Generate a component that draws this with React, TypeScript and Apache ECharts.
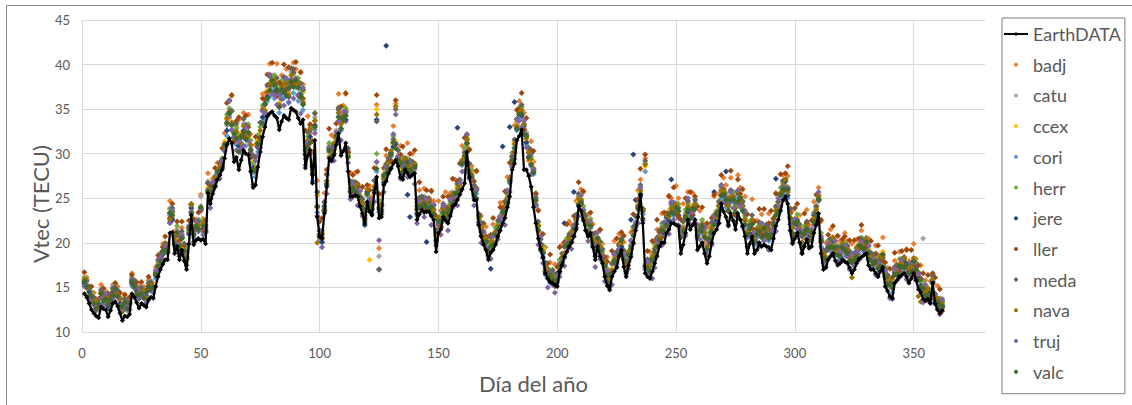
import React, { useEffect, useRef } from "react";
import * as echarts from "echarts";

// Daily vertical TEC (TECU), day of year 1..362
const earthData = [
  14.3,13.9,13.2,12.5,12.1,11.8,11.6,12.8,12.6,12.5,
  11.7,12.4,13.2,13.4,12.9,12.1,11.3,11.8,11.7,12.0,
  14.3,13.9,13.3,12.7,13.2,13.0,12.8,13.6,13.9,13.8,
  15.1,16.2,17.0,17.6,18.1,18.1,21.1,21.2,18.8,19.6,
  18.1,19.2,18.0,17.0,19.9,23.1,19.8,20.3,20.5,20.3,
  20.4,19.9,25.6,24.4,25.5,26.3,27.1,27.6,28.2,29.5,
  31.0,31.7,31.2,29.1,29.6,28.2,29.3,30.4,30.0,29.9,
  28.0,26.2,26.5,28.5,30.2,31.9,33.0,34.2,34.5,34.7,
  34.3,34.0,32.7,33.6,34.3,34.0,33.8,35.1,34.9,34.7,
  34.0,33.4,33.8,28.4,29.8,30.4,26.7,31.5,22.9,20.7,
  20.5,23.3,26.3,29.5,29.2,29.8,31.0,32.3,29.8,30.3,
  31.2,28.0,25.2,25.2,25.3,25.2,24.1,23.3,22.2,24.6,
  23.5,23.1,25.6,27.4,22.8,22.9,26.5,26.9,27.8,28.3,
  28.9,29.3,28.6,27.4,27.1,28.2,27.8,27.4,27.6,27.8,
  22.6,23.2,23.7,23.4,23.5,23.5,23.0,22.6,19.0,21.1,
  21.5,22.9,22.5,22.2,23.0,24.1,24.3,24.8,25.4,26.0,
  26.7,30.2,27.4,26.0,24.8,24.8,22.0,20.7,19.8,19.2,
  18.1,18.9,19.2,19.8,20.7,21.4,22.2,22.8,24.0,25.2,
  28.2,28.9,31.5,32.0,32.7,28.2,28.2,27.5,26.3,24.0,
  22.2,20.5,19.3,18.4,16.6,16.0,15.6,15.5,15.3,15.1,
  16.8,17.5,18.4,19.0,19.6,20.0,20.7,21.5,24.1,23.6,
  22.5,21.4,20.7,21.1,19.5,18.1,19.6,18.5,17.7,16.2,
  15.2,14.7,16.2,16.8,17.3,18.5,19.2,17.3,16.2,17.5,
  18.4,20.0,21.4,22.9,25.4,22.2,16.6,16.2,16.0,16.8,
  17.7,18.5,19.6,20.0,20.0,21.1,21.5,22.2,22.2,22.0,
  21.9,18.8,19.8,21.1,22.6,21.5,22.0,22.6,19.2,19.6,
  20.0,18.8,17.7,18.5,20.0,21.1,21.5,22.2,24.4,23.5,
  22.9,21.9,23.3,22.5,21.5,23.3,22.6,21.9,20.7,18.8,
  19.9,20.7,18.8,19.2,20.0,19.6,19.8,19.6,19.5,19.2,
  20.5,21.9,22.6,23.6,24.8,25.2,24.4,21.4,19.9,20.5,
  21.1,20.0,18.8,19.6,20.4,19.4,19.6,21.1,22.0,23.3,
  18.8,17.0,17.2,18.1,18.5,18.8,18.0,17.5,17.7,18.1,
  17.9,17.7,17.2,16.6,17.0,17.7,18.2,18.4,18.6,18.8,
  17.5,17.0,17.0,16.6,16.2,16.8,17.3,15.1,14.6,14.0,
  13.8,15.5,15.8,16.2,16.4,16.6,16.2,15.5,16.0,16.6,
  15.8,14.8,14.4,13.7,13.5,13.7,13.2,15.5,13.2,12.5,
  12.1,12.4,
];

const badj = [
  15.5,16.1,14.7,13.5,14.4,13.7,12.9,15.3,14.1,14.6,
  14.2,13.9,15.3,14.6,15.1,13.6,12.3,14.1,13.6,13.3,
  16.6,15.8,14.6,15.2,14.7,15.1,14.0,15.8,15.4,14.8,
  17.3,17.7,18.0,19.9,20.0,19.4,24.7,23.5,21.3,20.9,
  19.8,21.7,19.3,19.7,21.7,23.5,22.7,22.6,22.0,25.4,
  22.7,21.4,27.8,25.3,27.2,26.8,29.0,28.6,28.5,32.3,
  33.8,34.0,36.5,33.4,32.4,33.8,31.9,34.6,32.0,34.4,
  32.2,28.2,31.0,31.3,31.7,36.7,36.8,36.5,40.1,38.3,
  37.6,40.1,36.3,38.8,37.3,39.5,37.6,37.6,40.2,39.5,
  36.5,39.2,37.8,30.0,34.2,32.3,30.2,33.0,27.0,21.3,
  20.4,25.6,27.6,29.7,32.1,31.9,31.8,36.7,33.6,35.4,
  36.7,30.1,27.9,25.8,27.9,26.5,24.3,26.2,24.3,25.4,
  26.4,25.2,26.4,35.5,19.4,25.4,27.1,29.8,29.3,29.2,
  33.1,35.6,29.2,30.9,29.6,29.0,31.2,28.7,30.0,28.2,
  24.1,25.9,24.4,26.1,24.8,23.7,25.9,24.7,20.8,24.7,
  23.6,23.6,25.7,23.5,25.6,24.8,27.1,26.3,25.8,30.9,
  30.3,30.7,30.4,28.6,25.8,28.0,23.1,23.0,20.4,21.8,
  20.7,19.6,22.1,21.3,21.2,24.5,24.5,23.8,27.4,27.1,
  29.3,33.2,33.6,35.9,34.6,34.6,32.3,29.2,31.4,29.1,
  24.2,23.7,21.1,18.8,19.5,16.9,17.8,15.9,17.6,16.2,
  17.1,19.8,19.5,19.0,22.4,22.0,21.4,24.7,25.1,26.0,
  25.7,22.5,23.2,21.6,22.1,19.6,19.7,21.4,19.9,17.3,
  18.4,16.9,17.1,20.2,18.6,21.0,19.9,20.1,17.8,17.9,
  21.2,21.5,21.8,25.9,27.1,23.3,29.5,17.6,19.0,17.7,
  19.3,21.5,20.5,23.3,22.1,21.9,25.3,25.0,23.8,26.4,
  25.0,20.8,24.4,23.1,25.7,23.0,25.6,24.5,20.6,23.6,
  22.3,20.1,22.1,21.7,21.6,25.2,23.3,25.5,25.5,27.3,
  26.5,23.5,27.3,25.3,23.1,27.6,26.2,23.8,25.2,21.1,
  21.6,24.9,20.9,22.5,21.3,23.2,21.9,20.5,23.3,22.2,
  21.3,25.6,25.4,25.3,27.6,26.9,27.5,22.7,23.6,22.6,
  22.2,23.1,20.7,20.5,23.7,22.0,21.1,24.6,23.9,26.2,
  22.4,18.8,20.0,19.2,21.5,20.6,18.8,20.7,20.2,19.5,
  21.1,20.2,18.6,19.9,18.6,20.4,19.3,21.4,20.3,19.5,
  20.5,18.7,17.6,19.7,18.6,18.1,20.6,16.6,17.2,15.1,
  15.4,18.0,16.8,19.0,18.1,17.3,19.3,18.0,17.3,19.9,
  18.2,16.1,17.5,15.1,15.8,14.2,15.7,16.1,13.3,15.2,
  13.5,12.3,
];

const catu = [
  15.5,15.6,15.1,13.9,13.6,13.6,12.7,14.4,14.5,13.8,
  13.0,14.1,15.1,14.6,14.4,13.9,12.4,13.4,13.6,13.3,
  15.6,15.6,15.2,14.0,14.7,14.8,13.9,15.2,15.8,15.1,
  16.4,17.9,18.9,18.9,19.6,19.9,23.9,23.8,20.2,21.5,
  20.2,20.7,19.7,19.0,21.2,24.4,21.6,21.8,22.6,25.2,
  21.9,21.9,26.9,25.1,26.4,27.5,27.7,28.6,29.5,30.9,
  33.2,35.9,34.9,31.8,32.8,32.1,31.3,33.4,33.3,32.1,
  30.8,29.6,28.6,31.5,33.5,34.1,35.9,37.5,37.6,38.8,
  38.4,37.2,36.9,37.7,37.5,38.2,37.0,39.2,38.9,37.9,
  38.1,36.6,37.2,30.8,31.3,32.9,28.2,34.1,25.3,20.9,
  21.1,24.5,27.0,30.9,30.5,30.6,32.6,34.9,33.2,34.3,
  34.2,30.4,26.9,26.0,26.6,26.7,24.9,24.6,23.6,25.4,
  24.9,23.9,27.0,29.0,18.5,24.3,27.3,28.6,29.4,29.8,
  31.9,31.3,29.8,29.4,28.9,29.0,29.5,28.4,28.9,28.8,
  24.4,24.3,25.2,24.9,24.2,24.8,24.3,23.4,21.5,22.3,
  22.9,23.6,23.9,23.8,24.0,25.7,25.3,26.4,27.0,28.8,
  30.4,31.3,28.9,27.9,25.8,26.2,23.3,21.5,21.2,20.1,
  19.7,19.9,20.9,21.3,21.8,23.0,23.7,23.9,25.6,27.4,
  29.8,31.4,33.3,34.9,35.3,32.8,32.4,30.3,29.3,28.4,
  25.4,22.1,19.8,19.3,17.6,16.7,16.8,16.5,15.8,16.2,
  17.8,18.1,19.6,20.1,20.4,21.3,21.9,22.4,25.4,24.9,
  23.4,22.8,22.1,21.9,20.9,19.6,20.4,19.9,19.1,17.4,
  16.9,15.7,17.6,18.4,18.4,19.9,20.6,18.4,17.9,19.0,
  19.5,21.6,22.9,24.3,25.9,23.8,17.6,17.9,17.4,18.6,
  19.5,20.4,20.9,21.9,22.3,22.7,23.6,24.2,23.9,24.5,
  24.1,21.4,21.9,23.4,24.6,23.4,24.2,24.5,21.4,21.9,
  22.3,21.4,19.9,20.9,22.2,22.7,23.6,24.3,25.9,25.9,
  25.3,24.4,25.4,25.4,24.3,25.4,25.5,24.3,22.7,21.4,
  22.1,22.4,21.2,21.3,21.7,21.8,21.9,21.3,21.6,21.3,
  22.1,23.9,24.6,25.4,26.9,27.1,25.9,23.6,22.1,22.2,
  22.9,21.5,20.8,21.5,21.9,21.4,21.5,22.6,24.2,25.3,
  20.4,19.1,19.1,19.5,20.4,20.6,19.4,19.4,19.5,19.5,
  19.8,19.5,18.6,18.4,18.8,19.1,20.1,20.2,19.9,20.6,
  19.3,18.3,18.7,18.3,17.5,18.6,19.0,16.4,16.4,15.8,
  15.2,17.2,17.5,17.4,18.2,18.3,17.5,17.4,17.7,17.9,
  17.6,16.5,15.5,20.5,14.9,14.5,14.6,16.1,13.9,13.8,
  13.5,13.0,
];

const ccex = [
  15.9,14.9,14.9,13.7,13.8,13.1,13.2,13.9,14.3,13.7,
  13.3,13.5,14.8,14.6,14.6,13.2,12.9,13.0,13.4,13.2,
  15.4,15.5,14.5,14.4,14.4,14.7,14.0,15.3,15.0,15.5,
  16.7,17.3,18.6,18.8,19.8,19.3,22.8,23.0,20.6,20.9,
  19.5,21.1,19.4,18.9,21.3,23.7,21.7,21.6,22.4,23.8,
  22.3,21.2,26.2,25.5,26.0,27.4,27.6,28.7,28.8,31.4,
  33.9,34.4,34.8,31.6,33.1,30.8,32.3,32.4,33.0,31.9,
  30.1,29.3,28.5,31.6,32.2,34.9,35.0,37.1,37.4,38.7,
  37.3,38.0,35.7,37.6,37.2,38.0,36.8,38.2,38.9,37.7,
  37.9,36.4,36.9,29.8,32.0,31.7,28.9,33.1,25.4,20.7,
  21.2,23.6,27.7,30.1,30.6,30.4,32.4,34.1,33.9,33.6,
  34.9,29.6,26.8,25.8,26.6,25.9,25.4,24.0,23.5,25.3,
  18.1,24.3,26.3,35.0,24.5,23.7,27.8,27.9,29.3,29.7,
  31.2,31.4,29.7,29.3,28.2,29.5,28.7,28.9,28.3,28.9,
  23.7,24.8,24.5,24.8,24.2,24.8,23.7,23.9,20.7,22.8,
  22.2,24.1,23.2,23.7,23.9,25.5,25.2,26.3,26.3,29.3,
  29.7,31.8,28.2,27.8,25.7,26.1,22.7,21.9,20.5,20.5,
  19.0,20.3,20.2,21.3,21.7,22.9,23.1,24.3,24.9,27.3,
  29.2,31.3,33.2,34.8,34.7,33.3,31.7,30.3,29.2,28.3,
  24.7,22.1,19.7,19.3,17.0,17.1,16.1,16.6,15.7,16.2,
  17.2,18.5,18.9,20.1,20.2,21.2,21.3,22.8,24.7,24.9,
  23.2,22.7,21.5,22.3,20.2,19.6,20.2,19.8,18.5,17.8,
  16.2,16.1,17.0,18.3,18.2,19.9,20.0,18.8,17.2,19.0,
  19.3,21.5,22.3,24.3,25.7,23.8,28.6,17.2,17.8,17.9,
  19.5,19.7,21.3,21.2,22.1,22.5,23.5,23.5,24.3,23.7,
  24.1,20.7,22.3,22.7,24.5,23.2,24.1,23.9,21.8,21.2,
  22.3,20.7,20.3,20.2,22.1,22.5,23.5,23.7,26.3,25.2,
  25.3,23.7,25.8,24.7,24.3,25.2,25.3,23.7,23.1,20.7,
  22.1,22.2,21.1,20.7,22.1,21.1,21.9,21.1,21.5,20.7,
  22.5,23.2,24.5,25.2,26.8,26.5,26.3,22.9,22.1,22.0,
  22.9,21.3,20.7,20.9,22.3,20.7,21.5,22.4,24.1,24.7,
  20.8,18.4,19.1,19.3,20.3,20.0,19.8,18.7,19.5,19.3,
  19.7,18.9,19.0,17.7,18.8,18.9,20.0,19.6,20.3,19.9,
  19.3,18.1,18.6,17.7,17.9,17.9,19.0,16.2,16.3,15.2,
  15.6,16.5,17.5,17.2,18.1,17.7,17.9,16.7,17.7,17.7,
  17.5,15.9,15.9,14.7,14.9,14.3,14.5,15.5,14.3,13.2,
  13.5,12.7,
];

const cori = [
  15.2,15.2,13.9,13.6,13.5,12.6,12.7,13.9,13.3,13.6,
  12.6,13.7,13.9,14.5,14.3,12.9,12.4,12.9,12.4,13.1,
  15.2,15.2,14.0,13.8,14.6,13.8,13.9,14.7,14.6,14.9,
  16.0,17.5,17.7,18.7,19.5,18.9,23.1,22.8,19.8,20.9,
  19.1,20.6,18.8,18.2,21.2,23.4,20.6,21.6,21.3,23.7,
  21.2,21.3,25.6,24.9,25.9,26.4,27.6,27.6,28.7,30.3,
  32.0,34.2,32.6,31.2,31.0,30.4,30.1,32.1,30.9,31.6,
  28.9,27.9,27.4,30.2,31.1,33.6,33.9,35.9,36.4,37.4,
  36.2,36.7,34.6,36.3,36.2,36.7,35.7,37.8,36.8,37.4,
  35.9,36.1,34.9,29.4,30.0,31.4,26.9,32.7,23.4,20.4,
  20.0,23.7,26.4,30.2,29.3,30.5,31.1,34.2,32.6,33.7,
  33.6,29.7,25.6,25.9,25.4,25.9,24.2,24.0,22.3,25.3,
  23.6,23.8,25.7,28.0,23.5,23.7,26.6,27.9,28.1,29.7,
  30.6,30.7,29.1,28.7,27.6,28.9,28.1,28.3,27.7,28.3,
  23.1,24.2,23.9,24.2,23.6,24.2,23.1,23.3,20.1,22.2,
  21.6,23.5,22.6,23.1,23.3,24.9,24.6,25.7,25.7,28.7,
  29.1,31.2,27.6,27.2,25.1,25.5,22.1,21.3,19.9,19.9,
  18.4,19.7,19.6,20.7,21.1,22.3,22.5,23.7,24.3,26.7,
  28.6,30.7,32.6,34.2,34.1,32.7,31.1,29.7,28.6,27.7,
  24.1,21.5,19.1,18.7,16.4,16.5,15.5,16.0,15.1,15.6,
  16.6,17.9,18.3,19.5,19.6,20.6,20.7,22.2,24.1,24.3,
  22.6,22.1,20.9,21.7,19.6,19.0,19.6,19.2,17.9,17.2,
  15.6,15.5,16.4,17.7,17.6,19.3,19.4,18.2,16.6,18.4,
  18.7,20.9,21.7,23.7,25.1,23.2,28.0,16.6,16.9,17.4,
  18.4,19.5,20.0,21.1,20.9,22.3,22.2,23.4,23.0,23.6,
  22.8,20.6,21.0,22.6,23.2,23.1,22.8,23.8,20.5,21.1,
  21.0,20.6,19.0,20.1,20.8,22.4,22.2,23.6,25.0,25.1,
  24.0,23.6,24.5,24.6,23.0,25.1,24.0,23.6,21.8,20.6,
  20.8,22.1,19.8,20.6,20.8,21.0,20.6,21.0,20.2,20.6,
  21.2,23.1,23.2,25.1,25.5,26.4,25.0,22.8,20.8,21.9,
  21.7,21.3,19.5,20.9,21.1,20.7,20.3,22.4,22.9,24.7,
  19.6,18.4,17.9,19.3,19.1,20.0,18.6,18.7,18.3,19.3,
  18.5,18.9,17.8,17.7,17.6,18.9,18.8,19.6,19.1,19.9,
  18.1,18.1,17.4,17.7,16.7,17.9,17.8,16.2,15.1,15.2,
  14.4,16.5,16.3,17.2,16.9,17.7,16.7,16.7,16.5,17.7,
  16.3,15.9,14.7,14.7,13.7,14.3,13.3,15.5,13.1,13.2,
  12.6,12.7,
];

const herr = [
  16.1,15.2,14.8,14.5,13.5,13.5,12.8,14.7,14.2,13.7,
  13.5,13.7,14.8,15.4,14.3,13.8,12.5,13.7,13.3,13.3,
  16.1,15.2,14.9,14.7,14.6,14.7,14.0,15.5,15.5,15.1,
  16.9,17.5,18.6,19.6,19.5,19.8,23.8,23.4,20.7,21.9,
  20.2,20.8,19.9,19.3,21.6,24.4,21.3,22.5,22.6,24.1,
  22.5,21.5,26.7,25.9,26.4,27.5,27.8,29.0,29.5,31.1,
  34.4,35.1,34.8,33.3,32.9,32.1,31.9,34.0,33.2,33.3,
  31.5,28.8,29.6,32.1,33.0,35.4,35.6,37.7,38.7,38.5,
  38.8,37.6,36.8,38.2,38.1,38.5,37.4,39.6,39.1,38.5,
  38.5,37.0,37.1,31.3,31.9,33.2,28.6,34.6,25.7,21.3,
  21.4,23.9,27.7,31.2,30.4,31.1,32.1,35.2,33.7,34.1,
  35.1,30.1,26.9,26.9,26.5,26.5,25.0,25.0,23.4,25.7,
  25.1,24.2,27.0,30.0,24.8,24.3,27.4,28.9,29.2,30.1,
  32.1,31.1,30.4,29.7,28.7,29.5,28.9,29.3,28.8,28.7,
  24.6,24.6,25.2,25.2,24.7,24.8,23.9,24.3,21.2,22.6,
  23.1,23.9,23.9,24.1,24.4,25.5,25.4,26.7,26.8,29.1,
  30.6,31.6,28.9,28.2,26.2,26.1,22.9,22.3,21.0,20.3,
  19.9,20.1,20.9,21.7,22.2,22.9,23.3,24.7,25.4,27.1,
  30.1,31.1,33.9,35.2,35.2,33.3,31.9,30.7,29.7,28.1,
  25.6,21.9,20.4,19.7,17.5,17.1,16.3,17.0,16.2,16.0,
  18.1,18.3,19.6,20.5,20.7,21.2,21.5,23.2,25.2,24.7,
  24.1,22.5,22.2,22.7,20.7,19.6,20.4,20.2,19.0,17.6,
  17.1,15.9,17.7,18.7,18.7,19.9,20.2,19.2,17.7,18.8,
  20.2,21.3,23.0,24.7,26.2,23.8,28.9,18.2,17.7,18.3,
  19.8,20.1,21.4,22.2,22.0,23.1,23.1,24.5,24.2,24.1,
  24.4,21.1,22.4,23.7,24.4,23.8,23.7,24.9,21.7,21.6,
  22.6,21.1,20.4,21.2,22.0,23.1,23.1,24.7,26.2,25.6,
  25.6,24.1,25.9,25.7,24.2,25.8,24.9,24.7,23.0,21.1,
  22.4,22.6,21.2,21.7,22.0,21.7,21.5,22.1,21.4,21.1,
  22.8,23.6,24.6,26.2,26.7,27.1,25.9,23.9,22.0,22.4,
  23.2,21.7,20.8,21.9,22.2,21.3,21.1,23.4,24.0,25.1,
  21.1,18.8,19.2,20.3,20.2,20.6,19.4,19.7,19.4,19.7,
  20.0,19.3,19.1,18.7,18.7,19.5,19.6,20.6,20.2,20.3,
  19.6,18.5,18.7,18.7,17.8,18.5,18.6,17.2,16.2,15.6,
  15.9,16.9,17.6,18.2,18.0,18.3,17.5,17.7,17.6,18.1,
  17.8,16.3,16.0,15.7,14.8,14.9,14.1,16.5,14.2,13.6,
  13.8,13.1,
];

const jere = [
  15.4,15.1,14.5,13.6,13.4,12.9,12.9,13.9,13.9,13.6,
  12.9,13.5,14.5,14.5,14.2,13.2,12.6,12.9,13.0,13.1,
  15.5,15.0,14.6,13.8,14.5,14.1,14.1,14.7,15.2,14.9,
  16.3,17.3,18.3,18.7,19.4,19.2,22.3,22.6,20.1,20.8,
  19.2,20.6,19.1,18.4,21.0,23.9,20.9,21.7,21.6,23.8,
  21.6,21.3,25.9,25.0,25.9,26.9,27.4,28.2,28.6,30.7,
  32.6,34.6,33.4,31.8,31.7,30.9,30.9,32.6,31.6,32.1,
  29.6,28.4,28.1,30.7,31.8,34.1,34.6,36.4,37.1,37.9,
  36.9,37.2,35.3,36.8,36.9,37.2,36.4,38.3,37.5,37.9,
  36.6,36.6,35.6,29.9,30.7,31.9,27.6,33.2,24.1,20.9,
  20.1,24.1,26.6,30.6,29.5,30.9,31.3,34.6,32.8,34.1,
  33.8,30.1,25.8,26.3,25.6,26.3,24.4,24.4,22.0,25.7,
  23.8,24.2,25.9,33.8,17.0,24.1,26.8,42.1,28.3,30.1,
  30.8,31.1,29.3,29.1,27.8,29.3,25.4,22.9,27.9,28.7,
  23.3,24.6,24.1,24.6,20.1,24.6,23.3,23.7,20.3,22.6,
  21.8,23.9,22.8,23.5,23.5,25.3,24.8,32.9,25.9,29.1,
  29.3,31.6,27.8,27.6,25.3,25.9,22.3,21.7,20.1,20.3,
  18.6,17.1,19.8,21.1,21.3,22.7,30.8,24.1,24.5,33.0,
  28.8,35.8,32.8,34.6,34.3,33.1,31.3,30.1,28.8,28.1,
  24.3,21.9,19.9,18.3,16.6,16.9,15.7,16.4,15.3,16.6,
  16.8,18.3,22.2,19.9,19.8,21.0,25.7,22.6,24.3,24.7,
  22.8,22.5,21.1,22.1,19.8,19.4,19.8,19.6,18.1,17.6,
  15.8,15.9,16.6,18.1,17.8,19.7,19.6,18.6,16.8,18.8,
  22.6,29.9,24.8,24.1,25.3,23.6,17.4,17.6,16.8,18.3,
  18.5,20.1,20.3,21.6,21.1,22.9,22.5,27.1,23.3,24.1,
  23.1,21.1,21.3,23.1,23.5,23.6,23.1,24.3,20.8,21.6,
  21.3,21.1,19.3,20.6,21.1,25.7,22.5,24.1,25.3,25.6,
  28.0,24.1,24.8,25.1,23.3,25.6,24.3,24.1,22.1,21.1,
  21.1,22.6,20.1,21.1,21.1,21.5,20.9,21.5,20.5,21.1,
  21.5,27.2,23.5,25.6,25.8,26.9,25.3,23.3,21.1,22.4,
  22.1,21.5,20.0,21.1,21.6,20.9,20.8,22.6,23.4,24.9,
  20.1,18.6,18.4,19.5,19.6,20.2,19.1,18.9,18.8,19.5,
  19.0,19.1,18.3,17.9,18.1,19.1,19.3,19.8,19.6,20.1,
  18.6,18.3,17.9,17.9,17.2,18.1,18.3,16.4,15.6,15.4,
  14.9,16.7,16.8,17.4,17.4,17.9,17.2,16.9,17.0,17.9,
  16.8,16.1,15.2,14.9,14.2,14.5,13.8,15.7,13.6,13.4,
  12.8,12.9,
];

const ller = [
  16.7,15.0,15.1,15.1,13.6,12.8,13.7,14.4,14.9,13.8,
  14.3,13.9,14.2,15.5,14.5,14.4,12.6,14.2,12.8,13.9,
  16.4,15.5,15.6,14.0,15.6,14.1,14.7,16.2,15.4,14.8,
  16.4,18.6,18.1,19.5,20.7,19.6,22.8,24.4,20.7,22.4,
  20.3,22.4,19.7,18.1,22.5,24.3,22.6,21.7,23.4,23.6,
  21.5,22.5,26.7,26.4,26.1,28.4,27.5,29.0,30.6,31.1,
  35.7,34.7,36.6,31.4,33.7,34.1,32.0,31.9,34.3,33.0,
  29.8,29.8,31.9,31.2,31.7,36.2,36.1,38.9,37.7,40.2,
  38.0,36.5,38.0,37.7,40.0,37.2,39.7,37.9,39.5,40.3,
  38.0,39.1,36.2,32.6,30.9,33.3,31.4,33.7,24.0,22.4,
  22.8,23.5,28.2,32.8,30.4,30.0,33.4,35.0,35.3,33.7,
  36.8,30.2,25.7,27.6,26.8,28.0,24.8,26.3,22.7,26.5,
  25.9,24.6,28.4,36.6,25.5,23.5,28.4,30.5,29.2,29.2,
  31.2,36.0,29.5,29.9,30.8,29.4,28.2,30.0,29.1,30.4,
  24.9,26.8,25.0,23.7,25.9,25.0,25.8,23.3,23.0,22.0,
  21.7,25.2,24.0,25.2,23.9,27.2,25.0,26.9,28.9,29.2,
  31.8,31.2,30.5,27.0,26.9,28.1,23.2,20.8,22.2,20.7,
  18.8,20.9,22.8,21.2,21.2,24.0,23.9,25.8,24.9,29.0,
  29.7,30.2,34.9,35.0,36.8,32.7,34.0,29.5,30.4,30.3,
  25.5,23.6,19.7,21.0,16.8,17.7,18.7,16.5,15.2,17.3,
  19.5,17.7,20.1,22.1,20.7,20.1,23.0,23.0,26.8,24.3,
  25.8,22.6,21.0,23.4,21.0,21.1,20.2,21.5,18.3,18.4,
  17.9,16.3,19.1,17.7,20.5,19.1,21.2,20.8,17.7,17.9,
  19.3,23.2,22.1,24.9,28.3,23.7,29.9,19.1,18.0,20.2,
  20.2,22.6,21.2,20.6,23.4,23.3,25.2,23.5,26.2,23.4,
  22.9,22.6,22.5,25.0,23.9,25.7,23.2,25.2,24.1,21.7,
  24.0,20.7,22.2,19.9,22.8,25.4,23.4,23.1,27.6,26.0,
  24.4,25.0,28.1,25.2,23.1,27.1,25.5,26.0,22.5,23.2,
  22.0,21.6,22.4,21.5,23.8,21.1,23.8,20.8,22.2,23.6,
  22.7,25.5,23.9,27.7,25.9,27.8,28.6,23.4,20.9,23.9,
  24.4,21.1,21.2,23.3,22.2,20.3,22.5,23.1,25.4,24.8,
  22.6,18.9,18.1,20.9,20.4,21.9,19.3,20.8,18.7,20.4,
  20.7,19.6,20.3,17.8,20.3,18.7,20.5,22.0,20.2,19.5,
  18.8,20.2,17.8,18.8,19.7,18.4,18.0,17.8,16.4,17.1,
  16.1,18.9,17.4,16.8,19.1,18.4,19.2,16.8,19.2,17.5,
  16.5,17.5,16.0,16.6,14.4,16.4,13.7,16.6,16.1,13.7,
  14.8,12.8,
];

const meda = [
  15.7,15.8,14.9,13.7,13.9,13.4,12.9,14.7,14.3,13.7,
  13.1,14.3,14.9,14.6,14.7,13.7,12.6,13.7,13.4,13.2,
  15.7,15.8,15.0,13.9,15.0,14.6,14.1,15.5,15.6,15.0,
  16.5,18.1,18.7,18.8,19.9,19.7,23.3,23.9,20.7,21.0,
  19.9,21.3,19.9,18.4,21.9,24.2,21.4,22.4,22.4,23.8,
  22.2,22.0,26.7,25.0,26.7,27.3,27.9,28.9,29.3,30.8,
  33.5,36.0,34.8,31.9,33.4,31.6,31.8,33.9,33.2,32.2,
  30.5,29.8,29.6,30.8,33.5,34.8,35.5,37.7,38.7,38.0,
  37.8,38.5,36.9,36.9,38.6,37.9,37.3,39.6,39.1,38.0,
  37.5,37.9,37.2,30.0,32.4,32.6,28.5,34.5,25.7,21.0,
  20.9,24.6,27.7,30.4,30.7,31.1,32.1,35.1,34.0,33.9,
  34.6,30.6,26.9,26.1,26.8,26.5,25.2,24.9,23.7,25.5,
  24.6,24.7,27.0,33.6,17.0,24.3,27.6,28.8,29.5,29.9,
  31.6,35.0,30.4,28.9,29.0,29.5,29.1,29.2,29.1,28.5,
  24.1,25.1,25.2,24.4,25.0,24.8,24.1,24.2,21.5,22.4,
  22.6,24.4,23.9,23.3,24.7,25.5,25.6,26.6,27.1,28.9,
  30.1,32.1,28.9,27.4,26.5,26.1,23.1,22.2,21.3,20.1,
  19.4,20.6,20.9,20.9,22.5,22.9,23.5,24.6,25.7,26.9,
  29.6,31.6,33.9,34.4,35.5,33.3,32.1,30.6,30.0,27.9,
  25.1,22.4,20.4,18.9,17.8,17.1,16.5,16.9,16.5,15.8,
  17.6,18.8,19.6,19.7,21.0,21.2,21.7,23.1,25.5,24.5,
  23.6,23.0,22.2,21.9,21.0,19.6,20.6,20.1,19.3,17.4,
  16.6,16.4,17.7,17.9,19.0,19.9,20.4,19.1,18.0,18.6,
  19.7,21.8,23.0,23.9,26.5,23.8,29.2,18.1,18.0,18.1,
  19.3,20.6,21.4,21.4,22.3,23.1,23.3,24.4,24.5,23.9,
  23.9,21.6,22.4,22.9,24.7,23.8,23.9,24.8,22.0,21.4,
  22.1,21.6,20.4,20.4,22.3,23.1,23.3,24.6,26.5,25.4,
  25.1,24.6,25.9,24.9,24.5,25.8,25.1,24.6,23.3,20.9,
  21.9,23.1,21.2,20.9,22.3,21.7,21.7,22.0,21.7,20.9,
  22.3,24.1,24.6,25.4,27.0,27.1,26.1,23.8,22.3,22.2,
  22.6,22.1,20.7,21.0,22.4,21.2,21.2,23.2,24.1,24.8,
  20.5,19.2,19.1,19.4,20.4,20.5,19.5,19.5,19.5,19.4,
  19.4,19.7,19.0,17.8,18.9,19.4,19.7,20.4,20.3,20.0,
  19.0,18.9,18.6,17.8,18.0,18.4,18.7,17.0,16.3,15.3,
  15.3,17.3,17.5,17.3,18.2,18.2,17.6,17.5,17.7,17.8,
  17.2,16.7,15.9,14.8,15.0,14.8,14.2,16.3,14.3,13.3,
  13.2,13.5,
];

const nava = [
  15.9,15.0,14.1,14.0,13.4,13.5,12.6,14.3,13.9,13.7,
  13.3,13.5,14.1,14.9,14.2,13.8,12.3,13.3,13.0,13.2,
  15.9,15.0,14.2,14.2,14.5,14.7,13.8,15.1,15.2,15.0,
  16.7,17.3,17.9,19.1,19.4,19.8,22.6,23.5,20.3,21.0,
  19.9,20.5,19.1,18.7,21.4,24.3,21.0,22.0,22.0,23.8,
  22.2,21.2,25.9,25.3,26.2,27.4,27.5,28.5,28.9,30.8,
  34.0,34.5,33.5,32.4,32.5,31.8,31.1,33.1,32.4,32.0,
  31.0,28.2,28.3,31.3,32.6,35.0,34.8,36.9,37.9,37.8,
  38.3,37.0,35.5,37.4,37.7,38.1,36.6,38.8,38.3,37.8,
  38.0,36.4,35.8,30.5,31.5,32.8,27.8,33.7,20.0,20.6,
  21.0,23.8,26.9,30.7,30.1,31.2,31.7,34.6,33.4,34.4,
  34.8,29.8,26.1,26.3,26.2,26.6,24.8,24.4,23.1,26.0,
  24.7,23.9,26.2,34.4,24.0,24.3,27.2,28.3,28.9,30.3,
  31.2,35.3,29.6,29.1,28.4,29.5,28.7,28.7,28.5,28.9,
  23.7,24.6,24.4,24.6,24.4,24.8,23.7,23.7,20.9,22.8,
  22.2,23.9,23.1,23.5,24.1,25.5,25.2,26.1,26.5,29.3,
  29.7,31.6,28.1,27.6,25.9,26.1,22.7,21.7,20.7,20.5,
  19.0,20.1,20.1,21.1,21.9,22.9,23.1,24.1,25.1,27.3,
  29.2,31.1,33.1,34.6,34.9,33.3,31.7,30.1,29.4,28.3,
  24.7,21.9,19.6,19.1,17.2,17.1,16.1,16.4,15.9,16.2,
  17.2,18.3,18.8,19.9,20.4,21.2,21.3,22.6,24.9,24.9,
  23.2,22.5,21.4,22.1,20.4,19.6,20.2,19.6,18.7,17.8,
  16.2,15.9,16.9,18.1,18.4,19.9,20.0,18.6,17.4,19.0,
  19.3,21.3,22.2,24.1,25.9,23.8,28.8,17.6,17.4,18.5,
  18.9,20.1,20.6,21.6,21.7,23.1,22.9,23.9,23.9,24.3,
  23.5,21.1,21.6,23.1,24.1,23.8,23.5,24.3,21.4,21.8,
  21.7,21.1,19.6,20.6,21.7,23.1,22.9,24.1,25.9,25.8,
  24.7,24.1,25.1,25.1,23.9,25.8,24.7,24.1,22.7,21.3,
  21.5,22.6,20.4,21.1,21.7,21.7,21.3,21.5,21.1,21.3,
  21.9,23.6,23.8,25.6,26.4,27.1,25.7,23.3,21.7,22.6,
  22.3,21.7,20.0,21.3,21.9,21.3,20.9,22.8,23.7,25.3,
  20.2,18.8,18.4,19.7,19.9,20.6,19.2,19.1,19.1,19.9,
  19.1,19.3,18.3,16.1,18.4,19.5,19.4,20.0,19.9,20.5,
  18.7,18.5,17.9,18.1,17.5,18.5,18.4,16.6,15.9,15.8,
  15.0,16.9,16.8,17.6,17.7,18.3,17.3,17.1,17.3,18.3,
  16.9,14.0,13.4,15.1,14.5,14.9,13.9,15.9,13.9,13.8,
  12.9,13.3,
];

const truj = [
  15.1,15.2,13.7,14.0,13.0,12.4,13.2,13.8,13.0,14.3,
  13.2,13.3,13.8,15.0,13.9,12.5,13.1,12.6,13.0,12.5,
  15.9,14.9,13.7,14.5,14.0,14.3,13.3,15.1,14.8,14.4,
  16.9,17.0,18.3,18.1,19.6,19.0,22.2,23.6,19.9,19.9,
  18.5,20.9,18.9,17.5,21.7,23.5,20.1,22.4,21.3,23.8,
  20.9,21.7,25.9,23.9,26.8,26.3,27.7,27.2,29.1,30.3,
  31.1,35.9,32.7,31.8,30.4,31.4,30.6,30.9,32.9,31.4,
  30.2,26.5,29.2,29.8,30.7,34.8,34.5,34.3,38.9,36.7,
  36.6,35.5,36.6,36.1,35.4,38.4,35.8,38.3,36.2,38.4,
  36.5,34.5,37.4,28.7,31.3,30.0,28.7,32.3,23.0,21.4,
  19.5,23.7,25.5,30.7,29.2,29.2,32.4,33.7,31.5,34.7,
  34.7,29.0,24.9,26.6,25.5,24.2,25.8,23.0,22.9,23.8,
  24.9,23.3,24.6,29.1,20.3,23.7,25.7,28.4,28.0,28.4,
  32.2,34.4,29.7,27.2,28.7,28.2,27.4,29.0,27.8,26.6,
  22.2,24.7,23.8,22.9,24.9,23.7,22.0,24.3,19.7,22.2,
  20.9,24.2,22.7,21.4,24.9,23.9,25.2,24.2,26.8,28.0,
  28.0,32.2,27.2,27.2,24.2,26.0,22.0,20.0,21.2,19.4,
  19.0,18.2,20.7,20.0,20.4,23.0,22.6,22.0,25.9,25.7,
  28.5,29.4,33.9,33.7,33.0,33.7,30.7,29.7,27.7,28.2,
  24.2,19.8,20.7,17.7,17.0,15.0,16.6,15.3,14.4,16.3,
  16.2,17.9,17.4,20.0,19.5,19.3,22.0,21.7,23.0,25.3,
  23.7,21.4,20.2,22.4,19.7,17.3,21.2,18.2,18.5,15.7,
  16.9,15.0,15.3,18.7,17.2,19.3,18.5,18.7,16.5,17.1,
  20.3,19.9,22.3,22.2,26.2,22.5,17.0,17.9,16.6,16.0,
  17.2,20.2,19.9,19.7,22.2,21.9,21.0,24.6,22.6,23.7,
  22.0,21.4,21.1,20.8,25.0,22.1,23.5,22.2,21.7,20.4,
  19.8,21.8,18.6,20.2,19.8,23.0,22.1,22.2,26.4,24.6,
  24.7,22.0,25.7,23.9,22.2,25.9,24.1,21.8,23.6,19.6,
  20.7,20.7,21.2,20.1,19.6,22.2,20.2,21.1,19.2,21.2,
  21.3,21.3,25.0,24.1,26.2,24.8,26.2,22.1,20.0,22.7,
  21.5,21.4,18.8,21.4,21.1,19.6,21.5,22.0,22.1,25.7,
  20.7,17.8,17.4,19.9,19.3,18.6,20.2,17.9,19.0,18.0,
  19.7,18.5,17.0,18.7,17.4,19.0,18.1,20.1,19.1,18.8,
  19.7,17.3,18.1,16.4,17.8,17.3,17.3,16.8,15.3,13.8,
  13.7,17.0,16.3,16.1,18.1,17.3,15.9,17.7,16.3,17.8,
  15.8,16.5,14.9,13.3,15.3,13.5,14.0,14.2,14.2,12.6,
  12.0,13.7,
];

const valc = [
  15.7,15.1,14.1,14.0,13.2,12.6,13.2,14.3,13.5,13.7,
  13.1,13.6,14.1,14.9,14.0,12.9,12.9,13.3,12.6,13.2,
  15.7,15.1,14.2,14.2,14.3,13.8,14.4,15.1,14.8,15.0,
  16.5,17.4,17.9,19.1,19.2,18.9,23.4,23.1,19.8,21.2,
  19.6,20.5,19.1,18.2,21.6,23.3,21.0,21.9,21.5,24.0,
  21.9,21.2,25.8,25.0,26.3,26.4,28.0,28.1,28.4,31.0,
  33.4,34.5,33.2,32.2,31.7,30.2,31.9,32.4,31.6,32.4,
  30.4,28.2,28.0,31.1,31.8,33.4,35.6,36.2,37.1,38.2,
  37.7,37.0,35.2,37.2,36.9,36.5,37.4,38.1,37.5,38.2,
  37.4,36.4,35.5,30.3,30.7,31.2,28.6,33.0,24.1,20.8,
  20.6,23.6,26.6,30.4,29.7,30.0,32.0,34.1,32.8,33.9,
  34.3,29.6,25.8,26.1,25.8,25.4,25.1,23.9,22.5,25.5,
  24.3,23.7,25.9,28.3,23.8,23.2,27.5,27.8,28.3,29.9,
  31.3,30.6,29.3,28.9,28.0,28.4,29.0,28.2,27.9,28.5,
  23.8,24.1,24.1,24.4,24.0,23.7,24.0,23.2,20.3,22.4,
  22.3,23.4,22.8,23.3,23.7,24.4,25.5,25.6,25.9,28.9,
  29.8,31.1,27.8,27.4,25.5,25.0,23.0,21.2,20.1,20.1,
  19.1,19.6,19.8,20.9,21.5,21.8,23.4,23.6,24.5,26.9,
  29.3,30.6,32.8,34.4,34.5,32.2,32.0,29.6,28.8,27.9,
  24.8,21.4,19.3,18.9,16.8,16.0,16.4,15.9,15.3,15.8,
  17.3,17.8,18.5,19.7,20.0,20.1,21.6,22.1,24.3,24.5,
  23.3,22.0,21.1,21.9,20.0,18.5,20.5,19.1,18.1,17.4,
  16.3,15.4,16.6,17.9,18.0,18.8,20.3,18.1,16.8,18.6,
  19.4,20.8,21.9,23.9,25.5,22.7,17.3,17.1,16.8,18.1,
  19.0,19.6,20.3,21.4,21.3,22.0,23.2,23.4,23.3,23.9,
  23.6,20.6,21.3,22.9,23.7,22.7,23.8,23.8,20.8,21.4,
  21.8,20.6,19.3,20.4,21.3,22.0,23.2,23.6,25.3,25.4,
  24.8,23.6,24.8,24.9,23.5,24.7,25.0,23.6,22.1,20.9,
  21.6,22.1,20.1,20.9,21.3,20.6,21.6,21.0,20.5,20.9,
  22.0,23.1,23.5,25.4,26.0,26.0,26.0,22.8,21.1,22.2,
  22.4,21.2,19.7,21.1,21.5,20.2,21.2,22.3,23.1,24.9,
  20.3,18.3,18.1,19.5,19.5,19.5,19.5,18.6,18.5,19.5,
  19.2,18.8,18.0,17.9,18.0,18.4,19.7,19.5,19.3,20.1,
  18.8,18.0,17.6,17.9,17.1,17.4,18.7,16.1,15.3,15.4,
  15.1,16.4,16.5,17.4,17.3,17.2,17.6,16.6,16.7,17.9,
  17.0,15.8,14.9,14.9,14.1,13.8,14.2,15.4,13.3,13.4,
  13.0,12.9,
];

const dayOfYear = earthData.map((_, i) => i + 1);

const stationNames = ["badj", "catu", "ccex", "cori", "herr", "jere", "ller", "meda", "nava", "truj", "valc"];
const stationValues = [badj, catu, ccex, cori, herr, jere, ller, meda, nava, truj, valc];
const stationColors = ["#ED7D31", "#A5A5A5", "#FFC000", "#5B9BD5", "#70AD47", "#264478", "#9E480E", "#636363", "#997300", "#8064A2", "#43682B"];

const xTicks = { min: 0, max: 380, step: 50 };
const yTicks = { min: 10, max: 45, step: 5 };

const FONT = "Lato, 'Open Sans', 'DejaVu Sans', sans-serif";
const TEXT_GRAY = "#595959";
const GRID_GRAY = "#d9d9d9";

// Legend key for the reference series: a short line with a diamond marker in the middle
const LINE_KEY_ICON = "path://M0 1.1 L24 1.1 L24 2.9 L0 2.9 Z M12 0 L14 2 L12 4 L10 2 Z";

export default function App() {
  const ref = useRef<HTMLDivElement | null>(null);

  useEffect(() => {
    if (!ref.current) return;
    const chart = echarts.init(ref.current, undefined, { renderer: "svg" });

    const pairs = (vals: number[]) => dayOfYear.map((d, i) => [d, vals[i]]);

    const stationSeries = stationNames.map((name, k) => ({
      name,
      type: "scatter",
      data: pairs(stationValues[k]),
      symbol: "diamond",
      symbolSize: 6,
      itemStyle: { color: stationColors[k], opacity: 1 },
      emphasis: { disabled: true },
    }));

    chart.setOption({
      animation: false,
      backgroundColor: "#ffffff",
      textStyle: { fontFamily: FONT },
      grid: { left: 82, top: 20, right: 147, bottom: 73, containLabel: false },
      xAxis: {
        type: "value",
        min: xTicks.min,
        max: xTicks.max,
        interval: xTicks.step,
        name: "Día del año",
        nameLocation: "middle",
        nameGap: 40,
        nameTextStyle: { fontSize: 22, color: TEXT_GRAY, fontFamily: FONT },
        axisLine: { show: true, lineStyle: { color: GRID_GRAY, width: 1 } },
        axisTick: { show: false },
        axisLabel: { color: TEXT_GRAY, fontSize: 13, margin: 14, showMaxLabel: false, fontFamily: FONT },
        splitLine: { show: true, showMaxLine: false, lineStyle: { color: GRID_GRAY, width: 1 } },
      },
      yAxis: {
        type: "value",
        min: yTicks.min,
        max: yTicks.max,
        interval: yTicks.step,
        axisLine: { show: false },
        axisTick: { show: false },
        axisLabel: { color: TEXT_GRAY, fontSize: 13, margin: 12, fontFamily: FONT },
        splitLine: { show: true, lineStyle: { color: GRID_GRAY, width: 1 } },
      },
      legend: {
        orient: "vertical",
        left: 1002,
        top: 18,
        padding: [6, 4, 12, 2],
        borderColor: "#7f7f7f",
        borderWidth: 1,
        itemWidth: 24,
        itemHeight: 4,
        itemGap: 10.7,
        selectedMode: false,
        textStyle: { fontSize: 18, color: TEXT_GRAY, lineHeight: 20, fontFamily: FONT },
        data: [
          { name: "EarthDATA", icon: LINE_KEY_ICON, itemStyle: { color: "#000000" } },
          ...stationNames.map((n) => ({ name: n, icon: "circle" })),
        ],
      },
      graphic: [
        {
          type: "rect",
          silent: true,
          shape: { x: 6.5, y: 5.5, width: 1140, height: 420 },
          style: { fill: "none", stroke: "#8c8c8c", lineWidth: 1 },
        },
        {
          type: "text",
          silent: true,
          x: 40,
          y: 204,
          rotation: Math.PI / 2,
          style: {
            text: "Vtec (TECU)",
            fontSize: 22,
            fontFamily: FONT,
            fill: TEXT_GRAY,
            align: "center",
            verticalAlign: "middle",
          },
        },
      ],
      series: [
        {
          name: "EarthDATA",
          type: "line",
          data: pairs(earthData),
          symbol: "diamond",
          symbolSize: 5,
          showSymbol: true,
          lineStyle: { color: "#000000", width: 2.25 },
          itemStyle: { color: "#000000" },
          emphasis: { disabled: true },
        },
        ...stationSeries,
      ],
    });

    return () => chart.dispose();
  }, []);

  return (
    <div
      ref={ref}
      style={{ position: "fixed", left: 0, top: 0, width: 1132, height: 405, background: "#fff" }}
    />
  );
}
